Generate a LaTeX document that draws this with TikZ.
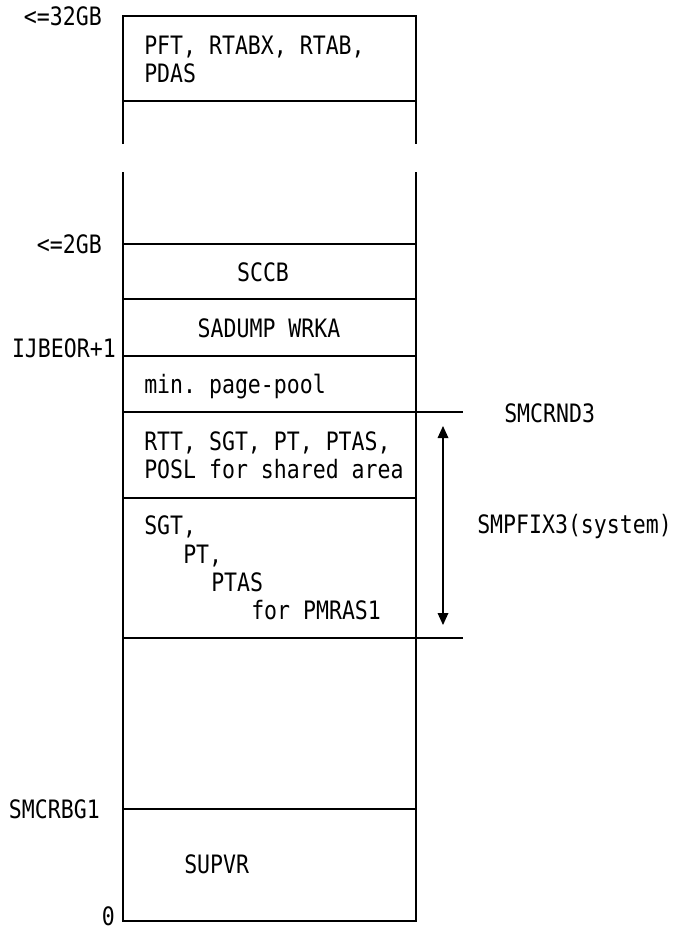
\documentclass[tikz,border=0pt]{standalone}
\usepackage{fontspec}
\setmonofont[FakeStretch=0.85]{DejaVu Sans Mono}
\usepackage{tikz}
\usetikzlibrary{arrows.meta}

\tikzset{
  maptext/.style={font=\ttfamily\fontsize{19}{21}\selectfont, inner sep=0pt},
  leftlbl/.style={maptext, anchor=base east},
  inlbl/.style={maptext, anchor=base west},
  midlbl/.style={maptext, anchor=base},
  mapline/.style={line width=0.9pt}
}

\begin{document}
\begin{tikzpicture}[x=0.75pt, y=-0.75pt]
        \useasboundingbox (0,0) rectangle (673,932);
        % Mapa de memoria
        \draw[mapline] (123,144) -- (123,16) -- (416,16) -- (416,144);
        \draw[mapline] (123,101) -- (416,101);
        \draw[mapline] (123,172) -- (123,921) -- (416,921) -- (416,172);
        \draw[mapline] (123,244) -- (416,244);
        \draw[mapline] (123,299) -- (416,299);
        \draw[mapline] (123,356) -- (416,356);
        \draw[mapline] (123,412) -- (463,412);
        \draw[mapline] (123,498) -- (416,498);
        \draw[mapline] (123,638) -- (463,638);
        \draw[mapline] (123,809) -- (416,809);

        \node[leftlbl] (gb32) at (102,25) {<=32GB};
        \node[leftlbl] (gb2) at (102,253) {<=2GB};
        \node[leftlbl] (ijbeor) at (116,357) {IJBEOR+1};
        \node[leftlbl] (smcrbg) at (100,818) {SMCRBG1};
        \node[leftlbl] (zero) at (115,925) {0};

        \node[inlbl] (pft) at (144,54) {PFT, RTABX, RTAB,};
        \node[inlbl] (pdas) at (144,82) {PDAS};
        \node[midlbl] (sccb) at (263,281) {SCCB};
        \node[midlbl] (sadump) at (269,337) {SADUMP WRKA};
        \node[inlbl] (pool) at (144,393) {min. page-pool};
        \node[inlbl] (rtt) at (144,450) {RTT, SGT, PT, PTAS,};
        \node[inlbl] (posl) at (144,478) {POSL for shared area};
        \node[inlbl] (sgt) at (144,534) {SGT,};
        \node[inlbl] (pt) at (183,563) {PT,};
        \node[inlbl] (ptas) at (211,591) {PTAS};
        \node[inlbl] (pmras) at (251,619) {for PMRAS1};
        \node[inlbl] (supvr) at (184,873) {SUPVR};

        \node[inlbl] (smcrnd) at (504,422) {SMCRND3};
        \node[inlbl] (smpfix) at (477,533) {SMPFIX3(system)};

        \coordinate (fixtop) at (443,426);
        \coordinate (fixbot) at (443,625);
        \draw[mapline, {Triangle[length=9pt,width=8pt]}-{Triangle[length=9pt,width=8pt]}] (fixtop) -- (fixbot);
\end{tikzpicture}
\end{document}
